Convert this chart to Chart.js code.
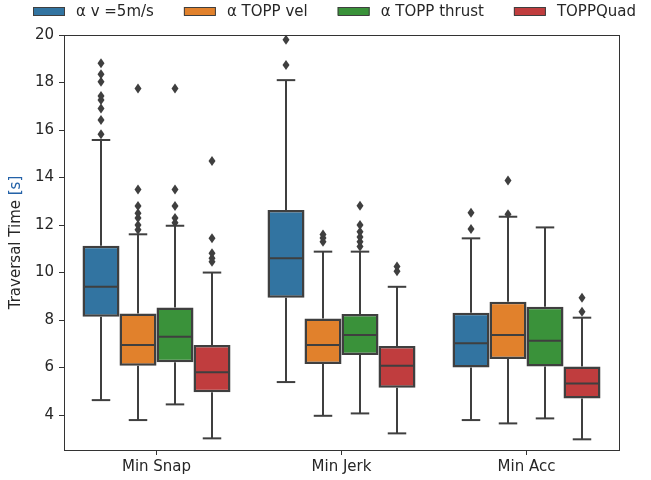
<!DOCTYPE html>
<html>
<head>
<meta charset="utf-8">
<script src="https://cdn.jsdelivr.net/npm/chart.js@4.4.1/dist/chart.umd.min.js"></script>
<style>
  html, body { margin: 0; padding: 0; background: #fff; }
</style>
</head>
<body>
<canvas id="chart" width="651" height="480"></canvas>
<script>
const categories = ['Min Snap', 'Min Jerk', 'Min Acc'];
const seriesLabels = ['α v =5m/s', 'α TOPP vel', 'α TOPP thrust', 'TOPPQuad'];
const seriesColors = ['#3274a1', '#e1812c', '#3a923a', '#c03d3e'];
const yTicks = [4, 6, 8, 10, 12, 14, 16, 18, 20];

// one row per series, one value per category
const whiskerLow = [
  [4.63, 5.39, 3.79],
  [3.79, 3.97, 3.65],
  [4.45, 4.07, 3.86],
  [3.02, 3.23, 2.98]
];
const q1 = [
  [8.14, 8.94, 6.00],
  [6.08, 6.15, 6.36],
  [6.22, 6.53, 6.04],
  [4.96, 5.15, 4.70]
];
const median = [
  [9.40, 10.60, 7.02],
  [6.95, 6.95, 7.37],
  [7.30, 7.37, 7.13],
  [5.80, 6.08, 5.33]
];
const q3 = [
  [11.13, 12.63, 8.31],
  [8.28, 8.07, 8.77],
  [8.53, 8.25, 8.56],
  [6.95, 6.91, 6.04]
];
const whiskerHigh = [
  [15.58, 18.10, 11.44],
  [11.61, 10.88, 12.35],
  [11.97, 10.88, 11.90],
  [10.00, 9.40, 8.10]
];
const outliers = [
  [[15.82, 16.42, 16.91, 17.26, 17.43, 18.03, 18.35, 18.81], [18.74, 19.80], [11.83, 12.52]],
  [[11.80, 12.00, 12.30, 12.50, 12.80, 13.50, 17.75], [11.30, 11.45, 11.60], [12.45, 13.87]],
  [[12.10, 12.30, 12.80, 13.50, 17.75], [11.10, 11.30, 11.50, 11.72, 12.00, 12.81], []],
  [[10.45, 10.60, 10.81, 11.44, 14.70], [10.05, 10.25], [8.35, 8.94]]
];

const FONT = 'DejaVu Sans';
const lineColor = '#3f3f3f';
const textColor = '#262626';

const datasets = seriesLabels.map((label, s) => ({
  label,
  data: categories.map((c, i) => [q1[s][i], q3[s][i]]),
  backgroundColor: seriesColors[s],
  borderColor: lineColor,
  borderWidth: 2.5,
  borderSkipped: false,
  categoryPercentage: 0.8,
  barPercentage: 1.0
}));

const drawLine = (ctx, x1, y1, x2, y2) => {
  ctx.beginPath();
  ctx.moveTo(x1, y1);
  ctx.lineTo(x2, y2);
  ctx.stroke();
};

const drawDiamond = (ctx, x, y) => {
  ctx.beginPath();
  ctx.moveTo(x, y - 5);
  ctx.lineTo(x + 3.5, y);
  ctx.lineTo(x, y + 5);
  ctx.lineTo(x - 3.5, y);
  ctx.closePath();
  ctx.fill();
};

const boxParts = {
  id: 'boxParts',
  afterDatasetsDraw(chart) {
    const ctx = chart.ctx;
    const yScale = chart.scales.y;
    const py = v => yScale.getPixelForValue(v);

    ctx.save();
    ctx.strokeStyle = lineColor;
    ctx.fillStyle = lineColor;
    ctx.lineWidth = 2;

    chart.data.datasets.forEach((ds, s) => {
      chart.getDatasetMeta(s).data.forEach((bar, i) => {
        const x = bar.x;
        const half = bar.width / 2;
        const cap = bar.width / 4;

        drawLine(ctx, x, py(q3[s][i]), x, py(whiskerHigh[s][i]));
        drawLine(ctx, x - cap, py(whiskerHigh[s][i]), x + cap, py(whiskerHigh[s][i]));
        drawLine(ctx, x, py(q1[s][i]), x, py(whiskerLow[s][i]));
        drawLine(ctx, x - cap, py(whiskerLow[s][i]), x + cap, py(whiskerLow[s][i]));
        drawLine(ctx, x - half + 1, py(median[s][i]), x + half - 1, py(median[s][i]));

        for (const v of outliers[s][i]) {
          drawDiamond(ctx, x, py(v));
        }
      });
    });

    // axes frame
    const a = chart.chartArea;
    ctx.strokeStyle = '#333';
    ctx.lineWidth = 1;
    ctx.strokeRect(a.left + 0.5, a.top + 0.5, a.right - a.left, a.bottom - a.top);
    ctx.restore();
  },
  afterDraw(chart) {
    const ctx = chart.ctx;
    ctx.save();

    // legend
    ctx.font = `15px "${FONT}"`;
    ctx.textBaseline = 'middle';
    let x = 33;
    chart.data.datasets.forEach(ds => {
      ctx.fillStyle = ds.backgroundColor;
      ctx.fillRect(x, 7, 32, 8);
      ctx.strokeStyle = lineColor;
      ctx.lineWidth = 1;
      ctx.strokeRect(x + 0.5, 7.5, 31, 8);
      ctx.fillStyle = textColor;
      ctx.fillText(ds.label, x + 43, 12);
      x += 43 + ctx.measureText(ds.label).width + 30;
    });

    // y axis title, unit in blue
    const a = chart.chartArea;
    const main = 'Traversal Time ';
    const unit = '[s]';
    const total = ctx.measureText(main + unit).width;
    ctx.translate(16, (a.top + a.bottom) / 2);
    ctx.rotate(-Math.PI / 2);
    ctx.textAlign = 'left';
    ctx.fillStyle = textColor;
    ctx.fillText(main, -total / 2, 0);
    ctx.fillStyle = '#2462a8';
    ctx.fillText(unit, -total / 2 + ctx.measureText(main).width, 0);

    ctx.restore();
  }
};

const tickGrid = {
  display: true,
  drawOnChartArea: false,
  drawTicks: true,
  tickLength: 5,
  tickWidth: 1,
  color: '#333'
};

new Chart(document.getElementById('chart'), {
  type: 'bar',
  data: { labels: categories, datasets },
  options: {
    responsive: false,
    animation: false,
    layout: { padding: { top: 35, right: 32, left: 0, bottom: 0 } },
    plugins: {
      legend: { display: false },
      tooltip: { enabled: false }
    },
    scales: {
      x: {
        offset: true,
        grid: { ...tickGrid, offset: false },
        border: { display: false },
        ticks: { color: textColor, font: { family: FONT, size: 15 }, padding: 3 },
        afterFit: scale => { scale.height = 30; }
      },
      y: {
        min: 2.53,
        max: 20,
        grid: tickGrid,
        border: { display: false },
        ticks: { color: textColor, font: { family: FONT, size: 15 }, padding: 5 },
        afterBuildTicks: scale => { scale.ticks = yTicks.map(v => ({ value: v })); },
        afterFit: scale => { scale.width = 64; }
      }
    }
  },
  plugins: [boxParts]
});
</script>
</body>
</html>
